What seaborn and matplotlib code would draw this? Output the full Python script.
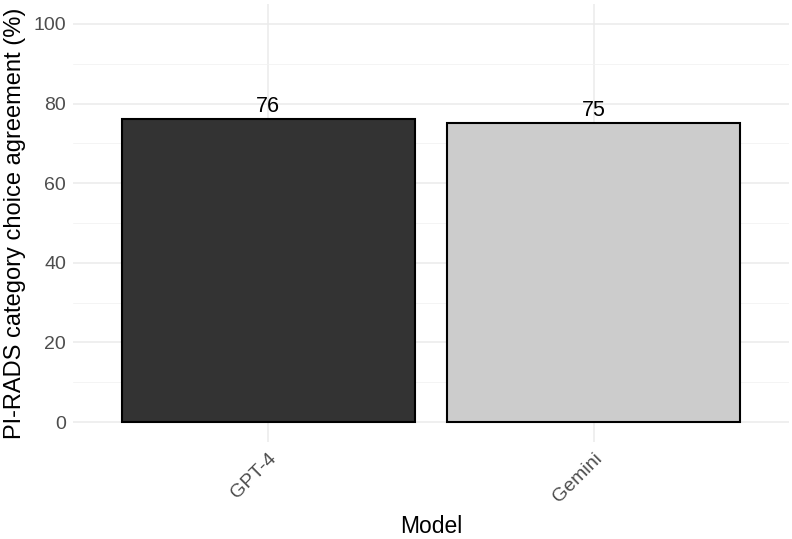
import matplotlib
matplotlib.use("Agg")
import matplotlib.pyplot as plt
import seaborn as sns
import pandas as pd
from matplotlib.ticker import MultipleLocator

# Data
models = ["GPT-4", "Gemini"]
agreement = [76, 75]
bar_colors = ["#333333", "#CCCCCC"]

df = pd.DataFrame({"Model": models, "Agreement": agreement})

sns.set_theme(style="whitegrid")
plt.rcParams["font.family"] = ["Liberation Sans", "DejaVu Sans"]

fig = plt.figure(figsize=(7.92, 5.39), dpi=100)
ax = fig.add_axes([0.092, 0.18, 0.904, 0.8126])

sns.barplot(data=df, x="Model", y="Agreement", hue="Model", order=models,
            palette=bar_colors, edgecolor="black", linewidth=1.5, width=0.9,
            legend=False, ax=ax)

for container in ax.containers:
    ax.bar_label(container, fmt="%d", padding=2, fontsize=15.5, color="black")

ax.set_xlim(-0.6, 1.6)
ax.set_ylim(-5, 105)
ax.yaxis.set_major_locator(MultipleLocator(20))
ax.yaxis.set_minor_locator(MultipleLocator(10))

ax.set_facecolor("white")
ax.grid(True, which="major", color="#EBEBEB", linewidth=1.1)
ax.grid(True, which="minor", axis="y", color="#F2F2F2", linewidth=0.6)
ax.set_axisbelow(True)
for s in ax.spines.values():
    s.set_visible(False)

ax.tick_params(axis="both", which="both", length=0, colors="#4D4D4D", labelsize=14)
ax.tick_params(axis="x", pad=6)
ax.tick_params(axis="y", pad=5)
plt.setp(ax.get_xticklabels(), rotation=45, ha="right", rotation_mode="anchor")

ax.set_xlabel("Model", fontsize=16.5, color="black", labelpad=6)
ax.set_ylabel("PI-RADS category choice agreement (%)", fontsize=17, color="black", labelpad=5)

fig.savefig("out.png", dpi=100)
